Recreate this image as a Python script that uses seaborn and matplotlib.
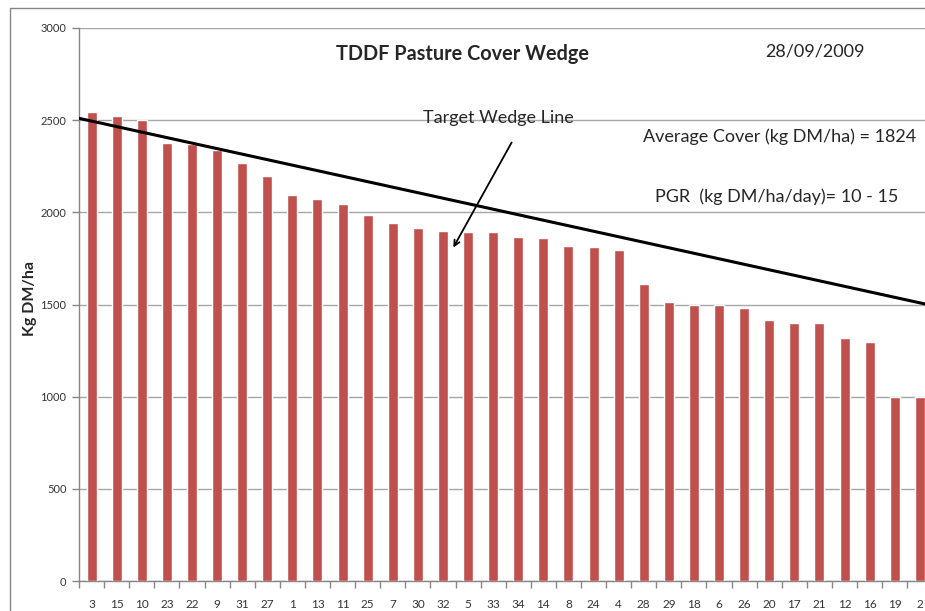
import matplotlib
matplotlib.use("Agg")
import matplotlib.pyplot as plt
from matplotlib.lines import Line2D
import seaborn as sns
import pandas as pd

# paddock numbers, sorted by cover
paddocks = ['3', '15', '10', '23', '22', '9', '31', '27', '1', '13', '11', '25',
            '7', '30', '32', '5', '33', '34', '14', '8', '24', '4', '28', '29',
            '18', '6', '26', '20', '17', '21', '12', '16', '19', '2']
cover = [2545, 2525, 2500, 2378, 2370, 2340, 2268, 2198, 2095, 2073, 2045, 1985,
         1943, 1917, 1899, 1895, 1893, 1868, 1862, 1815, 1810, 1796, 1610, 1512,
         1500, 1500, 1481, 1414, 1400, 1400, 1320, 1295, 1000, 1000]

# target wedge line ends (kg DM/ha)
wedge_x = [-0.5, 33.5]
wedge_y = [2510, 1494]

avg_cover = 1824
pgr_text = "10 - 15"
date_text = "28/09/2009"

df = pd.DataFrame({"paddock": paddocks, "cover": cover})

sns.set_style("white")
plt.rcParams['font.family'] = ['Lato', 'DejaVu Sans']

fig = plt.figure(figsize=(9.25, 6.11), dpi=100)
ax = fig.add_axes([79 / 925, 30 / 611, 853.4 / 925, 553 / 611])

sns.barplot(data=df, x="paddock", y="cover", order=paddocks, color="#C0504D",
            saturation=1, width=0.4, ax=ax, zorder=3)
ax.plot(wedge_x, wedge_y, color="black", lw=2.2, zorder=4)

ax.set_ylim(0, 3000)
ax.set_xlim(-0.5, len(paddocks) - 0.5)
ax.set_yticks(range(0, 3001, 500))
ax.yaxis.grid(True, color="#A6A6A6", lw=1, zorder=0)
ax.set_axisbelow(True)
ax.set_xlabel("")
ax.set_ylabel("")

for s in ["top", "right"]:
    ax.spines[s].set_visible(False)
for s in ["left", "bottom"]:
    ax.spines[s].set_color("#868686")
    ax.spines[s].set_linewidth(1)

ax.tick_params(axis="y", which="major", length=5, width=1, color="#868686",
               pad=4, labelsize=8, left=True, labelcolor="#333333")
ax.tick_params(axis="x", which="major", length=0, pad=13, labelsize=8.5,
               labelcolor="#333333")
ax.set_xticks([i - 0.5 for i in range(len(paddocks) + 1)], minor=True)
ax.tick_params(axis="x", which="minor", length=5, width=1, color="#868686",
               bottom=True)

# texts
ax.text(14.76, 2857, "TDDF Pasture Cover Wedge", ha="center", va="center",
        fontsize=14.3, fontweight="bold")
ax.text(26.83, 2870, date_text, ha="left", va="center", fontsize=13)
ax.text(21.97, 2409, f"Average Cover (kg DM/ha) = {avg_cover}", ha="left",
        va="center", fontsize=13)
ax.text(22.45, 2083, f"PGR  (kg DM/ha/day)= {pgr_text}", ha="left",
        va="center", fontsize=13)
ax.text(16.21, 2512, "Target Wedge Line", ha="center", va="center", fontsize=13)
ax.annotate("", xy=(14.36, 1796), xytext=(16.79, 2392),
            arrowprops=dict(arrowstyle="->", color="black", lw=1.3))

fig.text(30 / 925, 1 - 299 / 611, "Kg DM/ha", rotation=90, ha="center",
         va="center", fontsize=11.5, fontweight="bold")

# chart area border
fig.add_artist(Line2D([10 / 925, 10 / 925], [0, 1 - 8 / 611], color="#868686", lw=1))
fig.add_artist(Line2D([10 / 925, 1], [1 - 8 / 611, 1 - 8 / 611], color="#868686", lw=1))

fig.savefig("out.png", dpi=100)
